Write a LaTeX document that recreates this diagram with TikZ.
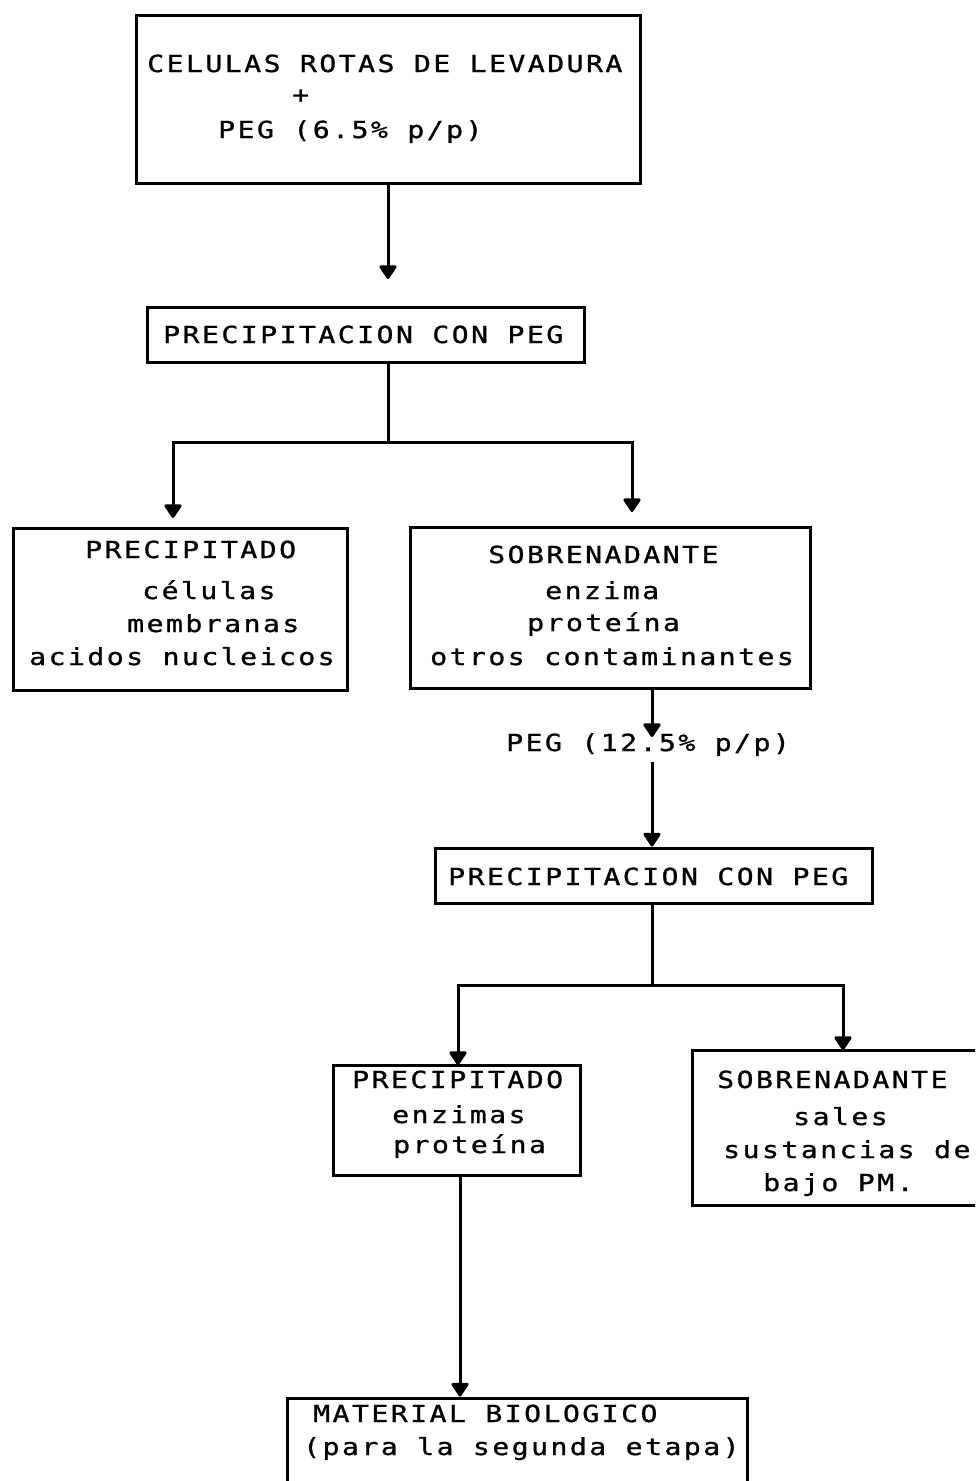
\documentclass[tikz,border=0pt]{standalone}
\usepackage{fontspec}
\usetikzlibrary{arrows.meta}
\newfontfamily\dotfont{DejaVu Sans Mono}[FakeStretch=1.2, FakeBold=1, LetterSpace=10.3]
\tikzset{
  box/.style={draw, line width=3pt, rectangle, inner sep=0pt},
  txt/.style={anchor=base west, inner sep=0pt, font=\dotfont\fontsize{23.5}{28}\selectfont},
  link/.style={line width=3pt},
  arr/.style={line width=3pt, -{Triangle[width=19pt,length=15pt,round]}}
}
\begin{document}
\begin{tikzpicture}[x=1pt,y=-1pt]
\clip (0,0) rectangle (975,1481);
\fill[white] (0,0) rectangle (975,1481);

% boxes
\node[box, minimum width=504pt, minimum height=168pt] (b1) at (388,99) {};
\node[box, minimum width=437pt, minimum height=55pt] (b2) at (365.5,334.5) {};
\node[box, minimum width=334pt, minimum height=162pt] (b3) at (180,609) {};
\node[box, minimum width=400pt, minimum height=161pt] (b4) at (610,607.5) {};
\node[box, minimum width=437pt, minimum height=55pt] (b5) at (653.5,875.5) {};
\node[box, minimum width=247pt, minimum height=110pt] (b6) at (456.5,1120) {};
\node[box, minimum width=320pt, minimum height=155pt] (b7) at (852,1127.5) {};
\node[box, minimum width=460pt, minimum height=110pt] (b8) at (517,1453) {};

% texts
\node[txt] (t1a) at (147,72) {CELULAS ROTAS DE LEVADURA};
\node[txt] (t1b) at (292,103) {+};
\node[txt] (t1c) at (218,138) {PEG (6.5\% p/p)};
\node[txt] (t2) at (163,343) {PRECIPITACION CON PEG};
\node[txt] (t3a) at (85,558) {PRECIPITADO};
\node[txt] (t3b) at (142,599) {células};
\node[txt] (t3c) at (127,632) {membranas};
\node[txt] (t3d) at (29,665) {acidos nucleicos};
\node[txt] (t4a) at (488,563) {SOBRENADANTE};
\node[txt] (t4b) at (545,599) {enzima};
\node[txt] (t4c) at (527,631) {proteína};
\node[txt] (t4d) at (430,665) {otros contaminantes};
\node[txt] (peg) at (506,751) {PEG (12.5\% p/p)};
\node[txt] (t5) at (448,885) {PRECIPITACION CON PEG};
\node[txt] (t6a) at (352,1088) {PRECIPITADO};
\node[txt] (t6b) at (392,1123) {enzimas};
\node[txt] (t6c) at (393,1153) {proteína};
\node[txt] (t7a) at (717,1088) {SOBRENADANTE};
\node[txt] (t7b) at (793,1125) {sales};
\node[txt] (t7c) at (723,1158) {sustancias de};
\node[txt] (t7d) at (763,1191) {bajo PM.};
\node[txt] (t8a) at (313,1422) {MATERIAL BIOLOGICO};
\node[txt] (t8b) at (303,1455) {(para la segunda etapa)};

% connectors
\coordinate (a1) at (388,279);
\draw[arr] (b1.south -| a1) -- (a1);

\coordinate (j1) at (388,442);
\coordinate (l1) at (173,518);
\coordinate (r1) at (632,512);
\draw[link] (b2.south -| j1) -- (j1);
\draw[arr] (j1) -| (l1);
\draw[arr] (j1) -| (r1);

\coordinate (s4) at (652,688);
\coordinate (p1) at (652,737);
\coordinate (p2) at (652,762);
\draw[arr] (s4) -- (p1);
\draw[arr] (p2) -- (p2 |- b5.north);

\coordinate (j2) at (652,985);
\coordinate (l2) at (458,1065);
\coordinate (r2) at (843,1050);
\draw[link] (b5.south -| j2) -- (j2);
\draw[arr] (j2) -| (l2);
\draw[arr] (j2) -| (r2);

\coordinate (s6) at (460,1175);
\draw[arr] (s6) -- (s6 |- b8.north);
\end{tikzpicture}
\end{document}
